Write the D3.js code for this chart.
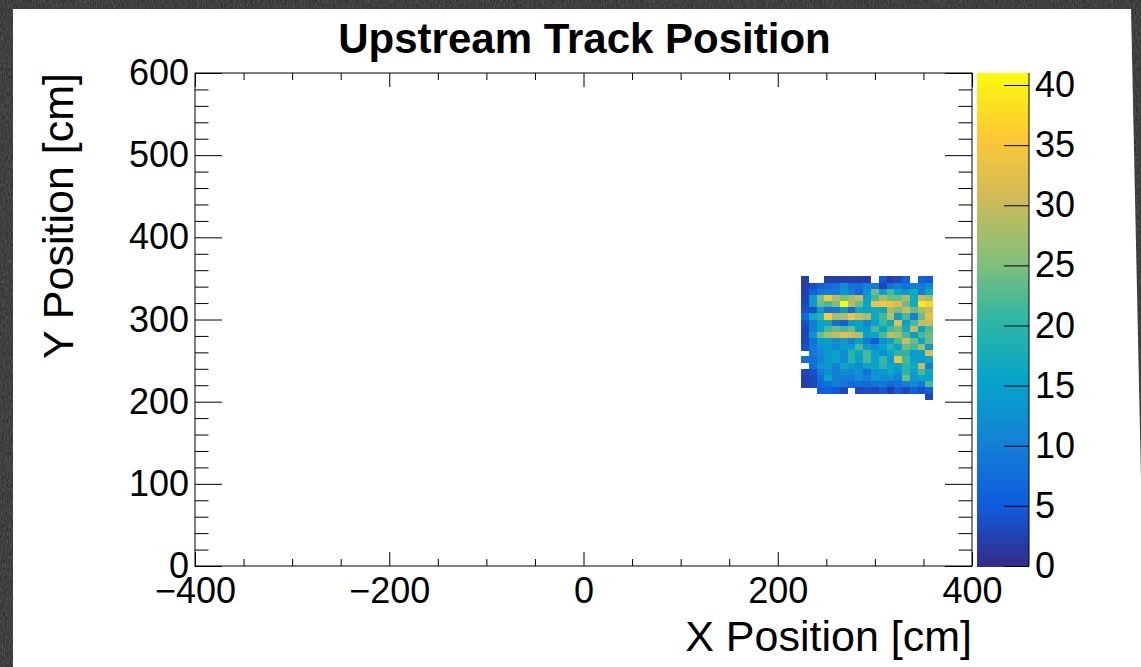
<!DOCTYPE html>
<html>
<head>
<meta charset="utf-8">
<script src="https://cdn.jsdelivr.net/npm/d3@7"></script>
<style>
  html, body { margin: 0; padding: 0; background: #3e3e3e; }
  svg { display: block; }
  text { font-family: "Liberation Sans", Arial, Helvetica, sans-serif; fill: #000; }
</style>
</head>
<body>
<svg id="chart"></svg>
<script>
var W = 1141, H = 667;

// histogram binning (cm)
var xBinLow = [224, 232, 240, 248, 256, 264, 272, 280, 288, 296, 304, 312, 320, 328, 336, 344, 352];
var xBinWidth = 8;
// rows listed from top to bottom
var yBinLow = [345, 337.5, 330, 322.5, 315, 307.5, 300, 292.5, 285, 277.5,
               270, 262.5, 255, 247.5, 240, 232.5, 225, 217.5, 210, 202.5];
var yBinWidth = 7.5;

// bin contents, one row per yBinLow entry, null = empty bin
var counts = [
  [2, null, null, 2, 2, 2, 2, 2, 2, null, 5, 2, 3, 6, null, 6, 5],
  [2, 4, 6, 7, 8, 12, 8, 8, 10, 9, 3, 8, 10, 8, 10, 9, 12],
  [2, 6, 9, 10, 9, 14, 10, 7, 13, 24, 15, 22, 16, 14, 17, 10, 16],
  [3, 14, 25, 35, 29, 25, 28, 30, 15, 22, 28, 24, 24, 28, 17, 30, 28],
  [3, 14, 24, 22, 25, 41, 29, 24, 16, 34, 35, 34, 32, 24, 17, 39, 37],
  [4, 4, 14, 8, 9, 14, 7, 16, 15, 17, 16, 28, 25, 30, 24, 28, 30],
  [7, 17, 20, 36, 28, 29, 34, 30, 28, 17, 22, 29, 14, 22, 10, 24, 33],
  [4, 9, 15, 16, 8, 6, 14, 16, 11, 15, 21, 16, 33, 15, 22, 30, 30],
  [3, 10, 15, 22, 24, 22, 24, 15, 14, 22, 16, 22, 24, 17, 30, 15, 22],
  [3, 13, 24, 28, 30, 33, 31, 29, 15, 16, 22, 30, 28, 22, 14, 22, 24],
  [3, 8, 14, 15, 12, 14, 10, 15, 9, 5, 13, 15, 22, 30, 24, 16, 24],
  [4, 9, 13, 14, 11, 14, 15, 22, 14, 12, 15, 20, 15, 24, 22, 28, 14],
  [null, 9, 11, 14, 15, 12, 20, 16, 22, 15, 12, 16, 20, 20, 14, 15, 32],
  [8, 8, 10, 14, 15, 12, 20, 15, 22, 15, 21, 14, 34, 22, 15, 14, 16],
  [null, 8, 13, 14, 10, 16, 14, 12, 15, 16, 20, 16, 15, 20, 17, 30, 10],
  [3, 4, 9, 13, 10, 12, 11, 13, 8, 13, 14, 16, 13, 20, 15, 22, 16],
  [2, 3, 8, 15, 10, 10, 9, 13, 10, 14, 12, 13, 10, 24, 14, 16, 15],
  [2, 3, 7, 8, 10, 9, 7, 8, 7, 8, 9, 7, 8, 10, 12, 9, 22],
  [null, null, 5, 6, 5, 3, null, 3, 4, 3, 5, 2, 5, 3, 6, 4, 6],
  [null, null, null, null, null, null, null, null, null, null, null, null, null, null, null, null, 3]
];

var xTicksMajor = [-400, -200, 0, 200, 400];
var xTicksMinor = [-350, -300, -250, -150, -100, -50, 50, 100, 150, 250, 300, 350];
var yTicksMajor = [0, 100, 200, 300, 400, 500, 600];
var zTicks = [0, 5, 10, 15, 20, 25, 30, 35, 40];
var zMax = 41;

// ROOT kBird palette
var birdStops = [0.0000, 0.1250, 0.2500, 0.3750, 0.5000, 0.6250, 0.7500, 0.8750, 1.0000];
var birdRed   = [0.2082, 0.0592, 0.0780, 0.0232, 0.1802, 0.5301, 0.8186, 0.9956, 0.9764];
var birdGreen = [0.1664, 0.3599, 0.5041, 0.6419, 0.7178, 0.7492, 0.7328, 0.7862, 0.9832];
var birdBlue  = [0.5293, 0.8684, 0.8385, 0.7914, 0.6425, 0.4662, 0.3499, 0.1968, 0.0539];

var titleText = 'Upstream Track Position';
var xTitle = 'X Position [cm]';
var yTitle = 'Y Position [cm]';


var frameL = 195, frameR = 972, frameT = 73, frameB = 566;
var palL = 977, palR = 1029;

var svg = d3.select('#chart')
            .attr('width', W)
            .attr('height', H);

// brushed dark background + white canvas
var defs = svg.append('defs');
var noise = defs.append('filter').attr('id', 'noise')
                .attr('x', 0).attr('y', 0).attr('width', '100%').attr('height', '100%')
                .attr('color-interpolation-filters', 'sRGB');
noise.append('feTurbulence')
     .attr('type', 'fractalNoise')
     .attr('baseFrequency', '0.9 0.25')
     .attr('numOctaves', 2)
     .attr('seed', 4);
noise.append('feColorMatrix')
     .attr('type', 'matrix')
     .attr('values', '0.22 0 0 0 0.14  0.22 0 0 0 0.14  0.22 0 0 0 0.14  0 0 0 0 1');

svg.append('rect')
   .attr('width', W).attr('height', H)
   .attr('filter', 'url(#noise)');

svg.append('path')
   .attr('d', 'M13,9 L1131,9 L1145,' + H + ' L13,' + H + ' Z')
   .attr('fill', '#fff');

var x = d3.scaleLinear().domain([-400, 400]).range([frameL, frameR]);
var y = d3.scaleLinear().domain([0, 600]).range([frameB, frameT]);
var z = d3.scaleLinear().domain([0, zMax]).range([frameB, frameT]);

var color = d3.scaleLinear()
              .domain(birdStops.map(s => s * zMax))
              .range(birdStops.map((s, i) => d3.rgb(birdRed[i] * 255, birdGreen[i] * 255, birdBlue[i] * 255)))
              .clamp(true);

// cells
var cells = [];
counts.forEach(function(row, j) {
    row.forEach(function(v, i) {
        if (v !== null) cells.push({x0: xBinLow[i], y0: yBinLow[j], v: v});
    });
});

svg.append('g').attr('class', 'cells')
   .selectAll('rect')
   .data(cells)
   .join('rect')
   .attr('x', d => x(d.x0))
   .attr('y', d => y(d.y0 + yBinWidth))
   .attr('width', d => x(d.x0 + xBinWidth) - x(d.x0) + 0.3)
   .attr('height', d => y(d.y0) - y(d.y0 + yBinWidth) + 0.3)
   .attr('fill', d => color(d.v))
   .attr('shape-rendering', 'crispEdges');

// frame
svg.append('rect')
   .attr('x', frameL).attr('y', frameT)
   .attr('width', frameR - frameL).attr('height', frameB - frameT)
   .attr('fill', 'none')
   .attr('stroke', '#000')
   .attr('stroke-width', 1);

function styleAxis(g, fontSize) {
    g.select('.domain').remove();
    g.selectAll('line').attr('stroke', '#000').attr('stroke-width', 1);
    g.selectAll('text').attr('font-size', fontSize + 'px').attr('fill', '#000')
     .attr('font-family', '"Liberation Sans", Arial, sans-serif');
}

// x axis
svg.append('g').attr('transform', 'translate(0,' + frameB + ')')
   .call(d3.axisBottom(x).tickValues(xTicksMajor).tickSize(-14).tickSizeOuter(0).tickPadding(11))
   .call(g => styleAxis(g, 36));
svg.append('g').attr('transform', 'translate(0,' + frameB + ')')
   .call(d3.axisBottom(x).tickValues(xTicksMinor).tickSize(-7).tickSizeOuter(0).tickFormat(''))
   .call(g => styleAxis(g, 36));
svg.append('g').attr('transform', 'translate(0,' + frameT + ')')
   .call(d3.axisTop(x).tickValues(xTicksMajor).tickSize(-14).tickSizeOuter(0).tickFormat(''))
   .call(g => styleAxis(g, 36));
svg.append('g').attr('transform', 'translate(0,' + frameT + ')')
   .call(d3.axisTop(x).tickValues(xTicksMinor).tickSize(-7).tickSizeOuter(0).tickFormat(''))
   .call(g => styleAxis(g, 36));

// y axis
var yMinor = d3.range(0, 601, 20).filter(v => v % 100 !== 0);
svg.append('g').attr('transform', 'translate(' + frameL + ',0)')
   .call(d3.axisLeft(y).tickValues(yTicksMajor).tickSize(-27).tickSizeOuter(0).tickPadding(6))
   .call(g => styleAxis(g, 36));
svg.append('g').attr('transform', 'translate(' + frameL + ',0)')
   .call(d3.axisLeft(y).tickValues(yMinor).tickSize(-13.5).tickSizeOuter(0).tickFormat(''))
   .call(g => styleAxis(g, 36));
svg.append('g').attr('transform', 'translate(' + frameR + ',0)')
   .call(d3.axisRight(y).tickValues(yTicksMajor).tickSize(-27).tickSizeOuter(0).tickFormat(''))
   .call(g => styleAxis(g, 36));
svg.append('g').attr('transform', 'translate(' + frameR + ',0)')
   .call(d3.axisRight(y).tickValues(yMinor).tickSize(-13.5).tickSizeOuter(0).tickFormat(''))
   .call(g => styleAxis(g, 36));

// palette
var nBands = 255;
var bands = d3.range(nBands).map(i => i * zMax / nBands);
svg.append('g').attr('class', 'palette')
   .selectAll('rect')
   .data(bands)
   .join('rect')
   .attr('x', palL)
   .attr('width', palR - palL)
   .attr('y', d => z(d + zMax / nBands))
   .attr('height', d => z(d) - z(d + zMax / nBands) + 0.5)
   .attr('fill', d => color(d + zMax / nBands / 2))
   .attr('shape-rendering', 'crispEdges');

svg.append('g').attr('transform', 'translate(' + palR + ',0)')
   .call(d3.axisRight(z).tickValues(zTicks).tickSize(-25).tickSizeOuter(0).tickPadding(6))
   .call(g => styleAxis(g, 36));
svg.append('line')
   .attr('x1', palR).attr('x2', palR)
   .attr('y1', frameT).attr('y2', frameB)
   .attr('stroke', '#000').attr('stroke-width', 1);

// titles
svg.append('text')
   .attr('x', 584.5).attr('y', 53)
   .attr('text-anchor', 'middle')
   .attr('font-size', '42px')
   .attr('font-weight', 'bold')
   .text(titleText);

svg.append('text')
   .attr('x', frameR).attr('y', 651)
   .attr('text-anchor', 'end')
   .attr('font-size', '43px')
   .text(xTitle);

svg.append('text')
   .attr('transform', 'translate(73,' + frameT + ') rotate(-90)')
   .attr('text-anchor', 'end')
   .attr('font-size', '43px')
   .text(yTitle);
</script>
</body>
</html>
